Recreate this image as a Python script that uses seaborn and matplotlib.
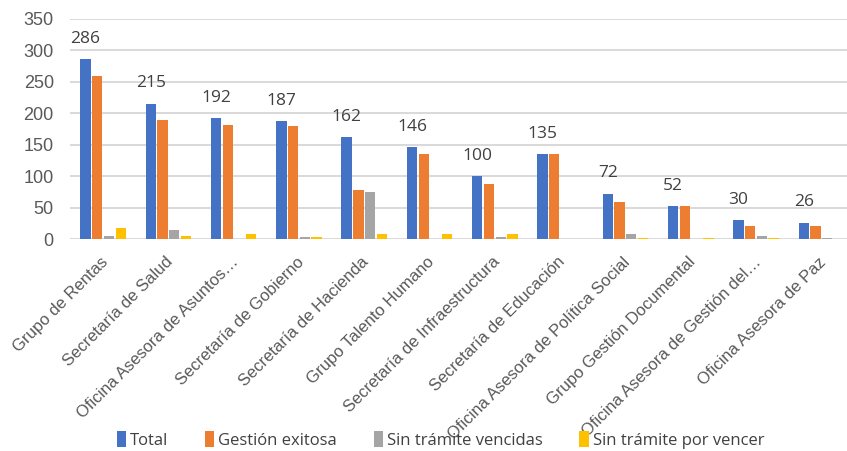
import matplotlib.pyplot as plt
import matplotlib.transforms as mtransforms
import seaborn as sns
import pandas as pd

# Datos
dependencias = [
    "Grupo de Rentas", "Secretaría de Salud", "Oficina Asesora de Asuntos…",
    "Secretaría de Gobierno", "Secretaría de Hacienda", "Grupo Talento Humano",
    "Secretaría de Infraestructura", "Secretaría de Educación",
    "Oficina Asesora de Política Social", "Grupo Gestión Documental",
    "Oficina Asesora de Gestión del…", "Oficina Asesora de Paz",
]
total = [286, 215, 192, 187, 162, 146, 100, 135, 72, 52, 30, 26]
gestion_exitosa = [259, 190, 182, 179, 78, 136, 88, 135, 59, 52, 21, 21]
sin_tramite_vencidas = [5, 15, 0, 3, 75, 0, 3, 0, 8, 0, 5, 2]
sin_tramite_por_vencer = [18, 5, 8, 3, 8, 8, 8, 0, 2, 2, 2, 0]

series = ["Total", "Gestión exitosa", "Sin trámite vencidas", "Sin trámite por vencer"]
colores = ["#4472C4", "#ED7D31", "#A5A5A5", "#FFC000"]

df = pd.DataFrame({
    "dependencia": dependencias * 4,
    "serie": [s for s in series for _ in dependencias],
    "valor": total + gestion_exitosa + sin_tramite_vencidas + sin_tramite_por_vencer,
})

sns.set_style("white")
plt.rcParams["font.family"] = ["Liberation Sans", "DejaVu Sans"]

fig = plt.figure(figsize=(8.47, 4.51), dpi=100)
ax = fig.add_axes([0.0832, 0.470, 0.925, 0.488])

sns.barplot(data=df, x="dependencia", y="valor", hue="serie",
            hue_order=series, palette=colores, width=0.72, gap=0.12,
            saturation=1, linewidth=0, ax=ax, legend=True)

# Etiquetas de datos solo para el total
blue = ax.containers[0]
for rect, v in zip(blue, total):
    ax.annotate(str(v), (rect.get_x() + rect.get_width() / 2, v),
                xytext=(0, 9), textcoords="offset points",
                ha="center", va="bottom", fontsize=12.5, color="#404040",
                family=["Open Sans", "DejaVu Sans"])

ax.set_ylim(0, 350)
ax.set_yticks(range(0, 351, 50))
ax.set_xlim(-0.5, len(dependencias) - 0.5)
ax.yaxis.grid(True, color="#D9D9D9", linewidth=1.4)
ax.set_axisbelow(True)
for s in ax.spines.values():
    s.set_visible(False)
ax.set_xlabel("")
ax.set_ylabel("")
ax.tick_params(axis="y", labelsize=13, colors="#595959", length=0, pad=12)
ax.tick_params(axis="x", length=0, labelsize=12, colors="#595959", pad=11)

plt.setp(ax.get_xticklabels(), rotation=45, ha="right", va="top",
         rotation_mode="anchor")
offset = mtransforms.ScaledTranslation(-3 / 100, 0, fig.dpi_scale_trans)
for lbl in ax.get_xticklabels():
    lbl.set_transform(lbl.get_transform() + offset)

handles, labels = ax.get_legend_handles_labels()
ax.legend_.remove()
fig.legend(handles, labels, loc="lower center", bbox_to_anchor=(0.52, -0.028),
           ncol=4, frameon=False, handlelength=0.55,
           handleheight=1.1, handletextpad=0.25, columnspacing=2.2,
           labelcolor="#404040", prop={"family": ["Open Sans", "DejaVu Sans"], "size": 12})

fig.savefig("out.png", dpi=100)
